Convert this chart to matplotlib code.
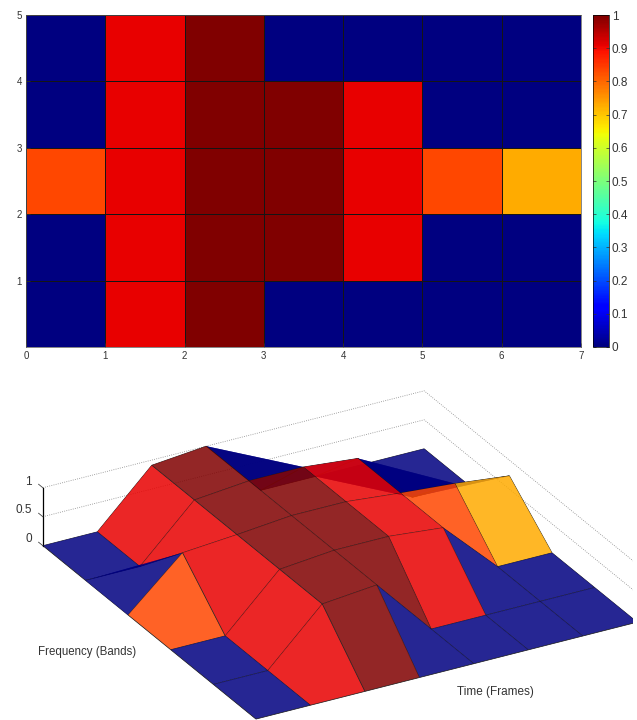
import numpy as np
import matplotlib
matplotlib.use('Agg')
import matplotlib.pyplot as plt
from mpl_toolkits.mplot3d.art3d import Poly3DCollection, Line3DCollection

plt.rcParams['font.family'] = ['Liberation Sans', 'DejaVu Sans']

# nilai tiap sel (baris = frequency band, kolom = time frame)
band_0 = [0, 0.91, 1, 0, 0, 0, 0]
band_1 = [0, 0.91, 1, 1, 0.91, 0, 0]
band_2 = [0.835, 0.91, 1, 1, 0.91, 0.835, 0.73]
band_3 = [0, 0.91, 1, 1, 0.91, 0, 0]
band_4 = [0, 0.91, 1, 0, 0, 0, 0]
x_ticks = [0, 1, 2, 3, 4, 5, 6, 7]
y_ticks = [1, 2, 3, 4, 5]
cbar_ticks = [0, 0.1, 0.2, 0.3, 0.4, 0.5, 0.6, 0.7, 0.8, 0.9, 1]
z_ticks = [0, 0.5, 1]
z_labels = ['0', '0.5', '1']

values = np.array([band_0, band_1, band_2, band_3, band_4])
W, H = 637, 720
text_col = '#333333'
elev, azim = 27.05, -119.2
z_aspect = 0.149

fig = plt.figure(figsize=(W / 100, H / 100), dpi=100)

# peta atas
ax = fig.add_axes([26 / W, (H - 347) / H, 555 / W, 332 / H])
mesh = ax.pcolormesh(np.arange(8), np.arange(6), values, cmap='jet', vmin=0, vmax=1,
                     edgecolors='#151515', linewidth=0.4)
ax.set_xticks(x_ticks)
ax.set_yticks(y_ticks)
ax.tick_params(direction='in', length=3, width=0.5, labelsize=7, colors=text_col, pad=3)
for s in ax.spines.values():
    s.set_linewidth(0.5)
    s.set_color('#555555')

# colorbar
cax = fig.add_axes([593 / W, (H - 347) / H, 16 / W, 332 / H])
cb = fig.colorbar(mesh, cax=cax, ticks=cbar_ticks)
cb.ax.set_yticklabels([f'{t:g}' for t in cbar_ticks])
cb.ax.tick_params(direction='in', length=2, width=0.5, labelsize=8.5, colors=text_col, pad=2, left=True)
cb.outline.set_linewidth(0.5)

# permukaan 3D
ax3 = fig.add_axes([30.4 / W, -144.6 / H, 603 / W, 603 / H], projection='3d',
                   proj_type='ortho', computed_zorder=False)
ax3.patch.set_visible(False)
ax3.set_box_aspect((1, 1, z_aspect))
ax3.view_init(elev=elev, azim=azim)
ax3.set_xlim(0, 7)
ax3.set_ylim(0, 5)
ax3.set_zlim(0, 1)
ax3.set_axis_off()

Z = np.zeros((6, 8))
Z[1:, 1:] = values
cmap = plt.get_cmap('jet')

# arah ke penonton, untuk urutan gambar (jauh dulu)
ve, va = np.radians(elev), np.radians(azim)
scale = np.array([1 / 7, 1 / 5, z_aspect])
view = np.array([np.cos(ve) * np.cos(va), np.cos(ve) * np.sin(va), np.sin(ve)])


def vertex(i, j):
    return (i, j, Z[j, i])


def depth(pts):
    return np.dot(np.mean(pts, axis=0) * scale, view)


def facing(tri):
    p = np.array(tri) * scale
    return np.dot(np.cross(p[1] - p[0], p[2] - p[0]), view)


def face(pts, col):
    ax3.add_collection3d(Poly3DCollection([pts], facecolors=[col], edgecolors='none',
                                          alpha=0.85, zorder=3 + depth(pts)))


def edge(seg):
    ax3.add_collection3d(Line3DCollection([seg], colors='#151515', linewidths=0.5,
                                          zorder=3 + depth(seg) + 0.02))


# sel yang terlipat dibagi dua segitiga lewat diagonal, sisanya satu segi empat
for j in range(5):
    for i in range(7):
        a, b, c, d = vertex(i, j), vertex(i + 1, j), vertex(i + 1, j + 1), vertex(i, j + 1)
        col = cmap(values[j, i])
        if facing([a, b, d]) * facing([b, c, d]) < 0:
            face([a, b, d], col)
            face([b, c, d], col)
        else:
            face([a, b, c, d], col)
        edge([a, b])
        edge([a, d])
for j in range(5):
    edge([vertex(7, j), vertex(7, j + 1)])
for i in range(7):
    edge([vertex(i, 5), vertex(i + 1, 5)])

# garis bantu dinding belakang
for z in z_ticks[1:]:
    ax3.plot([0, 7, 7], [5, 5, 0], [z, z, z], ls=':', color='#888888', lw=0.6, zorder=1)
ax3.plot([0, 0], [5, 5], [0, 1], color='black', lw=0.9, zorder=1)
for z in z_ticks:
    ax3.plot([0, 0], [5, 5.1], [z, z], color='#444444', lw=0.6, zorder=1)

# label sumbu z dan judul sumbu
for lab, py in zip(z_labels, [539, 510, 482]):
    fig.text(32 / W, 1 - py / H, lab, ha='right', va='center', fontsize=8.5, color=text_col)
fig.text(38 / W, 1 - 652 / H, 'Frequency (Bands)', ha='left', va='center', fontsize=8.3, color=text_col)
fig.text(457 / W, 1 - 692 / H, 'Time (Frames)', ha='left', va='center', fontsize=8.5, color=text_col)

fig.savefig('out.png', dpi=100)
